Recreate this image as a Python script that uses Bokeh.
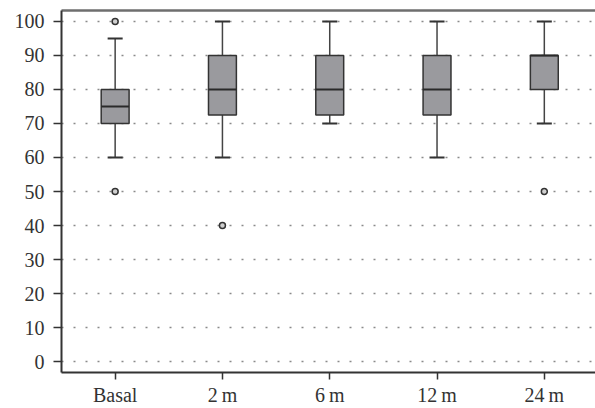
from bokeh.plotting import figure
from bokeh.models import Range1d, FixedTicker, LinearAxis
from bokeh.embed import file_html
from bokeh.resources import INLINE

# ---- data ----
groups = ["Basal", "2m", "6m", "12m", "24m"]
x_labels = ["Basal", "2\u2009m", "6\u2009m", "12\u2009m", "24\u2009m"]
whisker_low = [60, 60, 70, 60, 70]
q1 = [70, 72.5, 72.5, 72.5, 80]
median = [75, 80, 80, 80, 90]
q3 = [80, 90, 90, 90, 90]
whisker_high = [95, 100, 100, 100, 100]
outlier_group = ["Basal", "Basal", "2m", "24m"]
outlier_value = [100, 50, 40, 50]
y_ticks = list(range(0, 101, 10))

xs = list(range(len(groups)))
ox = [groups.index(g) for g in outlier_group]
box_w = 0.26
cap_w = 0.14

FONT = "Liberation Serif"
TXT = "#333333"

p = figure(width=595, height=408, output_backend="svg", toolbar_location=None,
           x_range=Range1d(-0.5, 4.477), y_range=Range1d(-3.2, 103.2),
           min_border_left=61, min_border_right=0, min_border_top=10, min_border_bottom=35)
p.outline_line_color = None
p.background_fill_color = "white"
p.border_fill_color = "white"

# grid
p.xgrid.visible = False
p.ygrid.ticker = FixedTicker(ticks=y_ticks)
p.ygrid.grid_line_color = "#8a8a8a"
p.ygrid.grid_line_dash = "2 10"
p.ygrid.grid_line_width = 1.5

# y axis
p.yaxis.ticker = FixedTicker(ticks=y_ticks)
p.yaxis.axis_line_color = "#333333"
p.yaxis.axis_line_width = 2
p.yaxis.major_tick_line_color = "#333333"
p.yaxis.major_tick_line_width = 1.5
p.yaxis.major_tick_out = 8
p.yaxis.major_tick_in = 0
p.yaxis.minor_tick_line_color = None
p.yaxis.major_label_standoff = 9
p.yaxis.major_label_text_font = FONT
p.yaxis.major_label_text_font_size = "20px"
p.yaxis.major_label_text_color = TXT

# x axis
p.xaxis.ticker = FixedTicker(ticks=xs)
p.xaxis.major_label_overrides = {i: lab for i, lab in zip(xs, x_labels)}
p.xaxis.axis_line_color = "#333333"
p.xaxis.axis_line_width = 2
p.xaxis.major_tick_line_color = "#333333"
p.xaxis.major_tick_line_width = 1.5
p.xaxis.major_tick_out = 7
p.xaxis.major_tick_in = 0
p.xaxis.minor_tick_line_color = None
p.xaxis.major_label_standoff = 4
p.xaxis.major_label_text_font = FONT
p.xaxis.major_label_text_font_size = "20px"
p.xaxis.major_label_text_color = TXT

# top border as an empty axis
top = LinearAxis(ticker=FixedTicker(ticks=[]), axis_line_color="#6e6e6e", axis_line_width=2.5,
                 major_tick_out=0, major_tick_in=0, minor_tick_out=0, minor_tick_in=0,
                 major_label_standoff=0, major_label_text_font_size="0px")
p.add_layout(top, "above")

# whiskers
p.segment(x0=xs, x1=xs, y0=whisker_low, y1=q1, line_color="#444444", line_width=1.5)
p.segment(x0=xs, x1=xs, y0=q3, y1=whisker_high, line_color="#444444", line_width=1.5)
# caps
p.segment(x0=[x - cap_w / 2 for x in xs], x1=[x + cap_w / 2 for x in xs],
          y0=whisker_low, y1=whisker_low, line_color="#333333", line_width=2)
p.segment(x0=[x - cap_w / 2 for x in xs], x1=[x + cap_w / 2 for x in xs],
          y0=whisker_high, y1=whisker_high, line_color="#333333", line_width=2)
# boxes
p.vbar(x=xs, width=box_w, bottom=q1, top=q3, fill_color="#9a9a9e",
       line_color="#333333", line_width=1.5)
# medians
p.segment(x0=[x - box_w / 2 for x in xs], x1=[x + box_w / 2 for x in xs],
          y0=median, y1=median, line_color="#2a2a2a", line_width=2)
# outliers
p.scatter(x=ox, y=outlier_value, marker="circle", size=6, fill_color="#cfcfcf",
          line_color="#333333", line_width=1.5)

open("out.html", "w").write(file_html(p, INLINE))
